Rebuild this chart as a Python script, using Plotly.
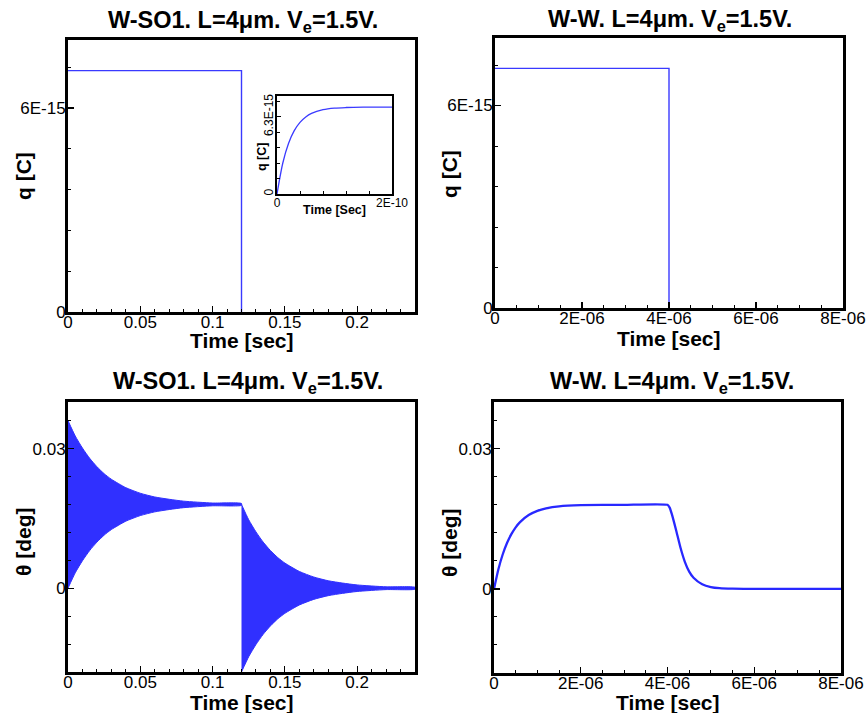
import plotly.graph_objects as go

# ---------------- data ----------------
# top-left: charge, W-SO1
tl_time = [0.0, 0.12, 0.12]
tl_q = [7.1e-15, 7.1e-15, 0.0]

# inset: early charge build-up
inset_time = [0.0, 0.1e-10, 0.2e-10, 0.3e-10, 0.4e-10, 0.5e-10, 0.6e-10,
              0.8e-10, 1.0e-10, 1.2e-10, 1.5e-10, 2.0e-10]
inset_q = [0.0, 2.51e-15, 4.12e-15, 5.17e-15, 5.85e-15, 6.29e-15, 6.58e-15,
           6.88e-15, 7.01e-15, 7.06e-15, 7.09e-15, 7.1e-15]

# top-right: charge, W-W
tr_time = [0.0, 4e-6, 4e-6]
tr_q = [7.1e-15, 7.1e-15, 0.0]

# bottom-left: oscillation envelope of theta, W-SO1
bl_time1 = [0.0, 0.005, 0.01, 0.015, 0.02, 0.025, 0.03, 0.04, 0.05, 0.06,
            0.07, 0.08, 0.1, 0.12]
bl_upper1 = [0.036, 0.0327, 0.0301, 0.0279, 0.0261, 0.0246, 0.0234, 0.0216,
             0.0204, 0.0196, 0.0191, 0.0187, 0.0183, 0.0182]
bl_lower1 = [0.0, 0.0033, 0.0059, 0.0081, 0.0099, 0.0114, 0.0126, 0.0144,
             0.0156, 0.0164, 0.0169, 0.0173, 0.0177, 0.0178]
bl_time2 = [0.12, 0.125, 0.13, 0.135, 0.14, 0.145, 0.15, 0.16, 0.17, 0.18,
            0.19, 0.2, 0.22, 0.24]
bl_upper2 = [0.018, 0.0147, 0.0121, 0.0099, 0.0081, 0.0066, 0.0054, 0.0036,
             0.0024, 0.0016, 0.0011, 0.0007, 0.0003, 0.0002]
bl_lower2 = [-0.018, -0.0147, -0.0121, -0.0099, -0.0081, -0.0066, -0.0054,
             -0.0036, -0.0024, -0.0016, -0.0011, -0.0007, -0.0003, -0.0002]

# bottom-right: theta, W-W
br_time = [0.0, 0.1e-6, 0.2e-6, 0.3e-6, 0.4e-6, 0.5e-6, 0.6e-6, 0.8e-6,
           1.0e-6, 1.2e-6, 1.5e-6, 2.0e-6, 3.0e-6, 4.0e-6, 4.05e-6, 4.1e-6,
           4.2e-6, 4.3e-6, 4.4e-6, 4.5e-6, 4.6e-6, 4.8e-6, 5.0e-6, 5.2e-6,
           5.5e-6, 6.0e-6, 7.0e-6, 8.0e-6]
br_theta = [0.0, 0.00416, 0.00736, 0.00983, 0.01172, 0.01318, 0.01429,
            0.0158, 0.0167, 0.01723, 0.01766, 0.01791, 0.018, 0.018, 0.0174,
            0.016, 0.0125, 0.0088, 0.0058, 0.0037, 0.0024, 0.001, 0.0004,
            0.00015, 0.00004, 0.0, 0.0, 0.0]

# tick values / labels
q_tickvals = [0, 6e-15]
q_ticktext = ["0", "6E-15"]
t1_tickvals = [0, 0.05, 0.1, 0.15, 0.2]
t1_ticktext = ["0", "0.05", "0.1", "0.15", "0.2"]
t2_tickvals = [0, 2e-6, 4e-6, 6e-6, 8e-6]
t2_ticktext = ["0", "2E-06", "4E-06", "6E-06", "8E-06"]
th_tickvals = [0, 0.03]
th_ticktext = ["0", "0.03"]
inset_xtickvals = [0, 2e-10]
inset_xticktext = ["0", "2E-10"]
inset_ytickvals = [0, 6.3e-15]
inset_yticktext = ["0", "6.3E-15"]

title_text = "<b>W-SO1. L=4\u03bcm. V<sub>e</sub>=1.5V.</b>"
title_text2 = "<b>W-W. L=4\u03bcm. V<sub>e</sub>=1.5V.</b>"

# ---------------- figure ----------------
W, H = 866, 713
OFF = 0
FONT = "Liberation Sans, Arial, Helvetica, sans-serif"
LINE_BLUE = "#3a3aff"
FILL_BLUE = "#3030ff"

fig = go.Figure()

fig.add_trace(go.Scatter(x=tl_time, y=tl_q, mode="lines",
                         line=dict(color=LINE_BLUE, width=1.4),
                         xaxis="x", yaxis="y", showlegend=False))
fig.add_trace(go.Scatter(x=tr_time, y=tr_q, mode="lines",
                         line=dict(color=LINE_BLUE, width=1.4),
                         xaxis="x2", yaxis="y2", showlegend=False))

# envelope polygons
poly1_x = bl_time1 + bl_time1[::-1]
poly1_y = bl_upper1 + bl_lower1[::-1]
poly2_x = bl_time2 + bl_time2[::-1]
poly2_y = bl_upper2 + bl_lower2[::-1]
for px, py in [(poly1_x, poly1_y), (poly2_x, poly2_y)]:
    fig.add_trace(go.Scatter(x=px, y=py, mode="lines", fill="toself",
                             fillcolor=FILL_BLUE,
                             line=dict(color=FILL_BLUE, width=1, shape="spline", smoothing=0.6),
                             xaxis="x3", yaxis="y3", showlegend=False))

fig.add_trace(go.Scatter(x=br_time, y=br_theta, mode="lines",
                         line=dict(color="#2828ff", width=2.3, shape="spline", smoothing=0.5),
                         xaxis="x4", yaxis="y4", showlegend=False))

fig.add_trace(go.Scatter(x=inset_time, y=inset_q, mode="lines",
                         line=dict(color=LINE_BLUE, width=1.3, shape="spline", smoothing=0.8),
                         xaxis="x5", yaxis="y5", showlegend=False))


def px_dom_x(a, b):
    return [(a - OFF) / W, (b - OFF) / W]


def px_dom_y(top, bottom):
    return [1 - (bottom - OFF) / H, 1 - (top - OFF) / H]


tickfont = dict(family=FONT, size=17, color="black")


def ax(domain, rng, tickvals, ticktext, minor_dtick, anchor, lw=3, font=tickfont,
       ticklen=6, minorlen=3, tickangle=None, standoff=0):
    d = dict(domain=domain, range=rng, anchor=anchor, showgrid=False, zeroline=False,
             automargin=False,
             showline=True, linewidth=lw, linecolor="black", mirror=True,
             ticks="inside", ticklen=ticklen, tickwidth=1.2, tickcolor="black",
             tickmode="array", tickvals=tickvals, ticktext=ticktext, tickfont=font,
             ticklabelstandoff=standoff,
             minor=dict(tickmode="linear", tick0=0, dtick=minor_dtick, ticks="inside",
                        ticklen=minorlen, tickwidth=1, tickcolor="black", showgrid=False),
             fixedrange=True)
    if tickangle is not None:
        d["tickangle"] = tickangle
    return d


XS = -7   # x tick label standoff
YS = -4   # y tick label standoff
small = dict(family=FONT, size=12, color="black")

fig.update_layout(
    template="none",
    width=W, height=H,
    margin=dict(l=0, r=0, t=0, b=0, autoexpand=False),
    paper_bgcolor="white", plot_bgcolor="white",
    showlegend=False,
    xaxis=ax(px_dom_x(68, 415), [0, 0.24], t1_tickvals, t1_ticktext, 0.01, "y", standoff=XS),
    yaxis=ax(px_dom_y(40, 312), [0, 8e-15], q_tickvals, q_ticktext, 1.2e-15, "x", standoff=YS),
    xaxis2=ax(px_dom_x(495, 843), [0, 8e-6], t2_tickvals, t2_ticktext, 5e-7, "y2", standoff=XS),
    yaxis2=ax(px_dom_y(38, 308), [0, 8e-15], q_tickvals, q_ticktext, 1.2e-15, "x2", standoff=YS),
    xaxis3=ax(px_dom_x(68, 415), [0, 0.24], t1_tickvals, t1_ticktext, 0.01, "y3", standoff=XS),
    yaxis3=ax(px_dom_y(402, 672), [-0.018, 0.04], th_tickvals, th_ticktext, 0.006, "x3", standoff=YS),
    xaxis4=ax(px_dom_x(494, 841), [0, 8e-6], t2_tickvals, t2_ticktext, 5e-7, "y4", standoff=XS),
    yaxis4=ax(px_dom_y(402, 673), [-0.018, 0.04], th_tickvals, th_ticktext, 0.006, "x4", standoff=YS),
    xaxis5=ax(px_dom_x(277, 392), [0, 2e-10], inset_xtickvals, inset_xticktext, 4e-11, "y5",
              lw=1.6, font=small, ticklen=4, minorlen=3, standoff=-3),
    yaxis5=ax(px_dom_y(96, 194), [0, 8e-15], inset_ytickvals, inset_yticktext, 1.26e-15, "x5",
              lw=1.6, font=small, ticklen=4, minorlen=3, tickangle=-90, standoff=-2),
)

annots = []


def ann(text, x, y, size, angle=0):
    annots.append(dict(text=text, x=(x - OFF) / W, y=1 - (y - OFF) / H,
                       xref="paper", yref="paper",
                       xanchor="center", yanchor="middle", showarrow=False,
                       textangle=angle, font=dict(family=FONT, size=size, color="black")))


ann(title_text, 243, 21, 23.5)
ann(title_text2, 670, 20, 23.5)
ann(title_text, 248, 382, 23.5)
ann(title_text2, 672, 383, 23.5)

ann("<b>q [C]</b>", 23, 176, 21, -90)
ann("<b>Time [sec]</b>", 242, 340, 21)
ann("<b>q [C]</b>", 450, 174, 21, -90)
ann("<b>Time [sec]</b>", 669, 338, 21)
ann("<b>\u03b8 [deg]</b>", 23, 542, 21, -90)
ann("<b>Time [sec]</b>", 242, 702, 21)
ann("<b>\u03b8 [deg]</b>", 449, 542, 21, -90)
ann("<b>Time [sec]</b>", 668, 702, 21)

ann("<b>Time [Sec]</b>", 334, 210, 12.5)
ann("<b>q [C]</b>", 262, 157, 12.5, -90)

fig.update_layout(annotations=annots)

fig.write_html("out.html",
               config={"displayModeBar": False, "staticPlot": True},
               post_script="document.body.style.margin='0';"
                           "document.body.style.overflow='hidden';")
